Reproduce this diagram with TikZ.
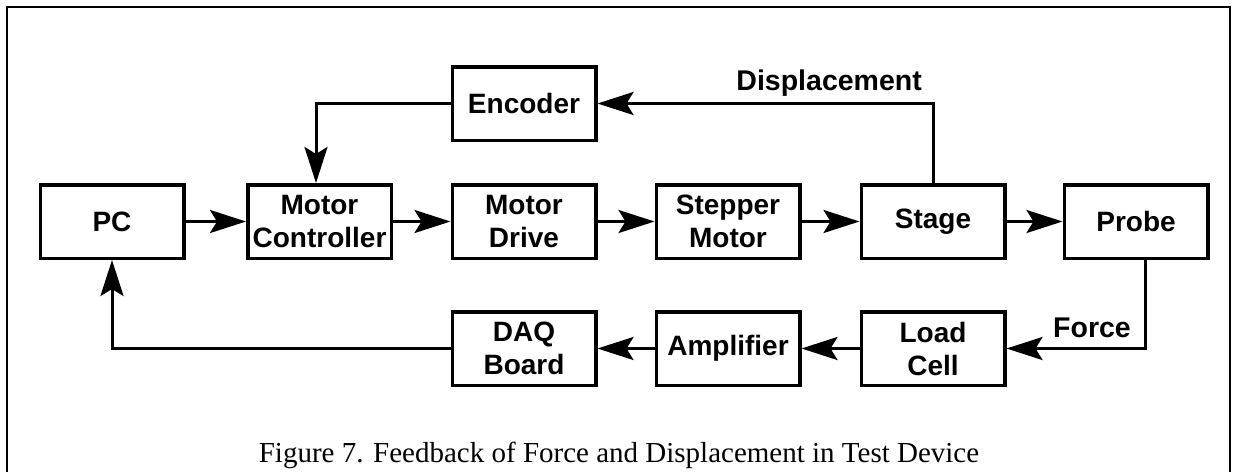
\documentclass[tikz,border=0pt]{standalone}
\usepackage{fontspec}
\setmainfont{Liberation Serif}
\setsansfont{Liberation Sans}
\usetikzlibrary{arrows.meta}
\begin{document}
\begin{tikzpicture}[x=1pt,y=-1pt,
  blk/.style={draw, line width=3.5pt, minimum width=143.5pt, minimum height=73.5pt,
    inner sep=0pt, align=center, font=\sffamily\bfseries\fontsize{28}{33}\selectfont},
  lbl/.style={font=\sffamily\bfseries\fontsize{28.5}{33}\selectfont, inner sep=0pt},
  flow/.style={line width=3pt, -{Stealth[length=36pt,width=23pt,inset=7pt]}},
  wire/.style={line width=3pt}]
\useasboundingbox (0,0) rectangle (1234,472);

% outer frame
\draw[line width=2pt] (7,472) -- (7,7) -- (1230,7) -- (1230,472);

% forward path
\node[blk] (pc)    at (112,221.5)   {PC};
\node[blk] (mc)    at (319.5,221.5) {Motor\\Controller};
\node[blk] (md)    at (524,221.5)   {Motor\\Drive};
\node[blk] (sm)    at (728,221.5)   {Stepper\\Motor};
\node[blk] (stage) at (933,221.5)   {Stage};
\node[blk] (probe) at (1136,221.5)  {Probe};

% displacement feedback
\node[blk] (enc)   at (524,103.5)   {Encoder};

% force feedback
\node[blk] (daq)   at (524,348.5)   {DAQ\\Board};
\node[blk] (amp)   at (728,348.5)   {Amplifier};
\node[blk] (lc)    at (933,348.5)   {Load\\Cell};

\draw[flow] (pc) -- (mc);
\draw[flow] (mc) -- (md);
\draw[flow] (md) -- (sm);
\draw[flow] (sm) -- (stage);
\draw[flow] (stage) -- (probe);

\draw[flow] (stage.north) |- (enc.east);
\draw[flow] (enc.west) -| ([xshift=-3.5pt]mc.north);

\draw[flow] ([xshift=9pt]probe.south) |- (lc.east);
\draw[flow] (lc) -- (amp);
\draw[flow] (amp) -- (daq);
\draw[flow] (daq.west) -| (pc.south);

\node[lbl, anchor=base east] (disp)  at (922,90)  {Displacement};
\node[lbl, anchor=base east] (force) at (1131,337) {Force};

\node[font=\fontsize{29}{34}\selectfont, anchor=base, inner sep=0pt] (cap) at (619,462)
  {Figure 7. Feedback of Force and Displacement in Test Device};
\end{tikzpicture}
\end{document}
